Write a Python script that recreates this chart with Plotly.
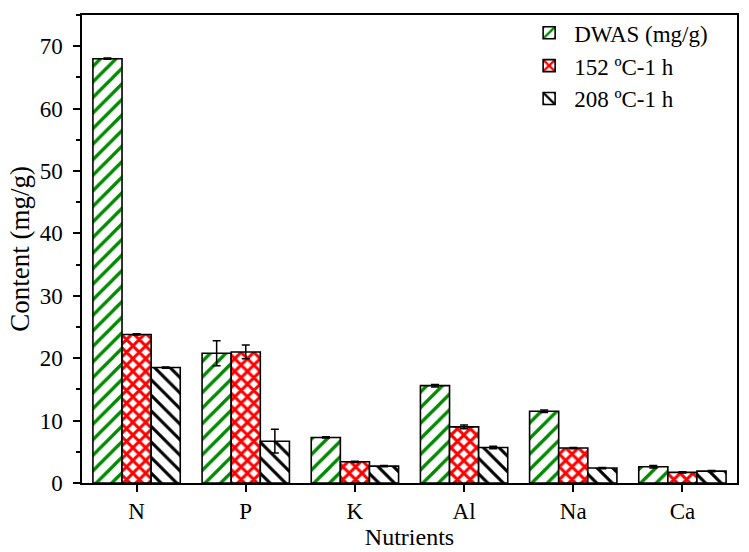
import plotly.graph_objects as go

categories = ["N", "P", "K", "Al", "Na", "Ca"]
dwas = [68.0, 20.8, 7.3, 15.6, 11.5, 2.6]
dwas_err = [0.1, 2.0, 0.1, 0.2, 0.2, 0.2]
t152 = [23.8, 21.0, 3.4, 9.0, 5.6, 1.7]
t152_err = [0.1, 1.1, 0.1, 0.3, 0.1, 0.1]
t208 = [18.5, 6.7, 2.7, 5.7, 2.4, 1.9]
t208_err = [0.1, 1.9, 0.1, 0.2, 0.1, 0.1]

series_names = ["DWAS (mg/g)", "152 ºC-1 h", "208 ºC-1 h"]

FONT = "Liberation Serif, Times New Roman, serif"

fig = go.Figure()

specs = [
    (dwas, dwas_err, "/", "#008a00", 11, 0.3),
    (t152, t152_err, "x", "#ff0000", 9, 0.55),
    (t208, t208_err, "\\", "#000000", 11, 0.28),
]
for name, (vals, errs, shape, col, size, sol) in zip(series_names, specs):
    fig.add_trace(go.Bar(
        x=categories, y=vals, name=name,
        marker=dict(
            color="white",
            line=dict(color="black", width=1.6),
            pattern=dict(shape=shape, fgcolor=col, bgcolor="white",
                         size=size, solidity=sol, fgopacity=1, fillmode="overlay"),
        ),
        error_y=dict(type="data", array=errs, visible=True,
                     color="black", thickness=1.5, width=4),
    ))

fig.update_layout(
    width=749, height=552,
    margin=dict(l=82, r=12, t=11, b=69),
    paper_bgcolor="white", plot_bgcolor="white",
    barmode="group", bargap=0.2, bargroupgap=0,
    font=dict(family=FONT, size=23, color="black"),
    showlegend=True,
    legend=dict(x=0.675, y=1.008, xanchor="left", yanchor="top",
                font=dict(family=FONT, size=23, color="black"),
                bgcolor="rgba(0,0,0,0)", borderwidth=0,
                itemwidth=40, tracegroupgap=0),
)
fig.update_xaxes(
    range=[-0.5, 5.5], showline=True, linecolor="black", linewidth=1.5,
    mirror=True, ticks="outside", ticklen=7, tickwidth=1.5, tickcolor="black",
    showgrid=False, zeroline=False, automargin=False,
    title=dict(text="Nutrients", font=dict(family=FONT, size=24), standoff=2),
    tickfont=dict(family=FONT, size=23),
)
fig.update_yaxes(
    range=[0, 75], showline=True, linecolor="black", linewidth=1.5,
    mirror=True, ticks="outside", ticklen=7, tickwidth=1.5, tickcolor="black",
    dtick=10, tick0=0, showgrid=False, zeroline=False, automargin=False,
    ticklabelstandoff=6,
    minor=dict(dtick=5, ticks="outside", ticklen=4, tickwidth=1.5, tickcolor="black"),
    title=dict(text="Content (mg/g)", font=dict(family=FONT, size=27), standoff=2),
    tickfont=dict(family=FONT, size=23),
)

fig.write_html("out.html", config={"displayModeBar": False},
               post_script="document.body.style.margin='0px';")
